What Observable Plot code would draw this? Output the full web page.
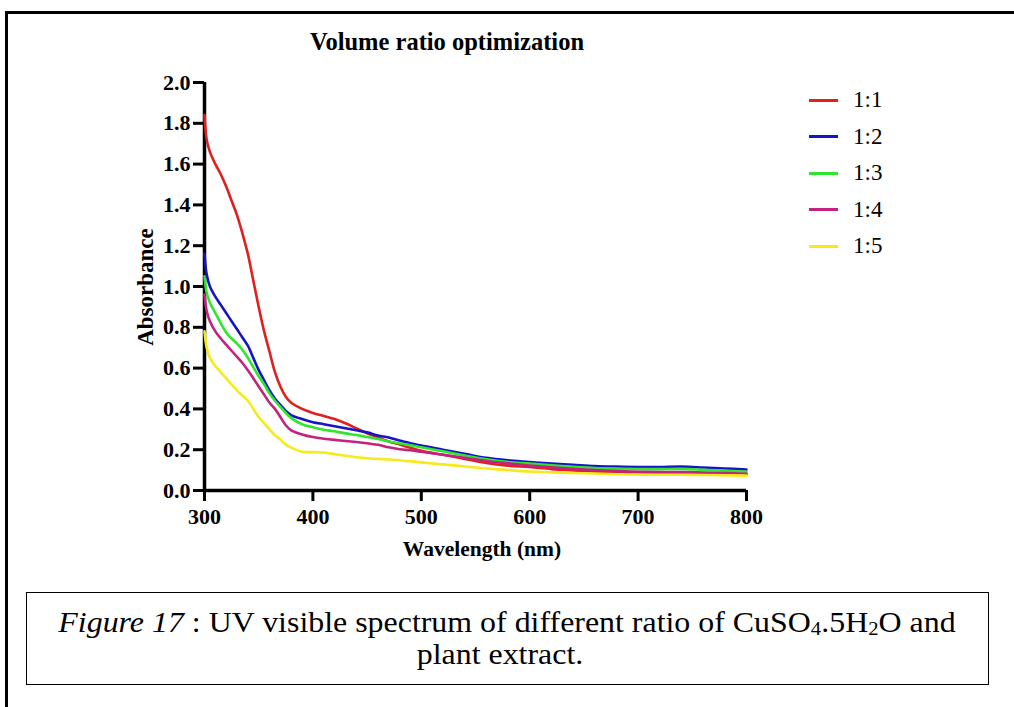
<!DOCTYPE html>
<html>
<head>
<meta charset="utf-8">
<script src="https://cdn.jsdelivr.net/npm/d3@7"></script>
<script src="https://cdn.jsdelivr.net/npm/@observablehq/plot@0.6"></script>
<style>
  html, body { margin: 0; padding: 0; background: #fff; }
  #wrap { position: relative; width: 1014px; height: 707px; overflow: hidden; font-family: "Liberation Serif", "Times New Roman", serif; color: #000; }
  #wrap svg { position: absolute; left: 0; top: 0; }
  .abs { position: absolute; white-space: nowrap; }
  .c { transform: translate(-50%, -50%); }
</style>
</head>
<body>
<div id="wrap"></div>
<script>
// ---- data ----
const title = "Volume ratio optimization";
const xLabel = "Wavelength (nm)";
const yLabel = "Absorbance";
const seriesNames = ["1:1", "1:2", "1:3", "1:4", "1:5"];
const seriesColors = ["#e01f1f", "#1515c4", "#2fe52f", "#c2237c", "#f6ea18"];
const xTicks = [300, 400, 500, 600, 700, 800];
const yTicks = [0, 0.2, 0.4, 0.6, 0.8, 1.0, 1.2, 1.4, 1.6, 1.8, 2.0];

const wavelengths = [300,302,305,310,315,320,325,330,335,340,345,350,355,360,365,370,375,380,390,400,410,420,430,440,450,460,470,480,490,500,520,540,560,580,600,620,640,660,680,700,720,740,760,780,800];

const abs11 = [1.84,1.72,1.66,1.60,1.55,1.49,1.42,1.35,1.26,1.16,1.03,0.90,0.78,0.68,0.58,0.51,0.46,0.43,0.40,0.38,0.365,0.35,0.33,0.305,0.28,0.26,0.24,0.225,0.21,0.195,0.175,0.155,0.135,0.122,0.115,0.105,0.098,0.092,0.088,0.085,0.085,0.085,0.083,0.080,0.078];
const abs12 = [1.16,1.06,1.00,0.95,0.91,0.87,0.83,0.79,0.75,0.71,0.65,0.59,0.54,0.49,0.45,0.42,0.39,0.37,0.35,0.335,0.325,0.315,0.305,0.295,0.285,0.27,0.26,0.245,0.232,0.22,0.20,0.18,0.16,0.148,0.14,0.132,0.126,0.12,0.117,0.115,0.115,0.117,0.113,0.108,0.103];
const abs13 = [1.05,0.97,0.92,0.87,0.82,0.775,0.745,0.72,0.69,0.65,0.605,0.56,0.52,0.475,0.44,0.41,0.38,0.355,0.325,0.31,0.298,0.29,0.28,0.272,0.262,0.252,0.24,0.23,0.222,0.212,0.192,0.172,0.153,0.14,0.132,0.123,0.116,0.11,0.107,0.105,0.105,0.106,0.102,0.097,0.092];
const abs14 = [0.96,0.88,0.83,0.78,0.745,0.715,0.685,0.655,0.625,0.59,0.55,0.51,0.47,0.43,0.40,0.36,0.32,0.295,0.275,0.262,0.254,0.248,0.243,0.238,0.232,0.224,0.212,0.202,0.197,0.19,0.175,0.16,0.145,0.133,0.122,0.114,0.106,0.10,0.095,0.092,0.09,0.09,0.088,0.085,0.082];
const abs15 = [0.78,0.70,0.65,0.61,0.58,0.55,0.52,0.49,0.465,0.44,0.40,0.36,0.33,0.30,0.27,0.25,0.225,0.21,0.19,0.188,0.186,0.178,0.17,0.163,0.158,0.155,0.152,0.148,0.143,0.138,0.128,0.118,0.108,0.10,0.093,0.089,0.086,0.083,0.08,0.078,0.077,0.077,0.076,0.075,0.073];

const seriesValues = [abs11, abs12, abs13, abs14, abs15];

// ---- build ----
const data = seriesNames.flatMap((s, i) =>
  wavelengths.map((w, j) => ({ w, a: seriesValues[i][j], s }))
);

const W = 1014, H = 707;
const serif = "'Liberation Serif', 'Times New Roman', serif";

const chart = Plot.plot({
  width: W,
  height: H,
  marginLeft: 204,
  marginRight: 268,
  marginTop: 82,
  marginBottom: 217,
  style: { fontFamily: serif, background: "transparent", overflow: "visible" },
  x: { domain: [300, 800] },
  y: { domain: [0, 2] },
  color: { domain: seriesNames, range: seriesColors },
  marks: [
    Plot.axisX({ ticks: xTicks, tickSize: 11, tickPadding: 7, strokeWidth: 3, fontSize: 22, fontWeight: "bold", label: null, tickFormat: d => String(d), fill: "#000" }),
    Plot.axisY({ ticks: yTicks, tickSize: 11, tickPadding: 3, strokeWidth: 3, fontSize: 22, fontWeight: "bold", label: null, tickFormat: d3.format(".1f"), fill: "#000" }),
    Plot.ruleX([300], { y1: 0, y2: 2, strokeWidth: 3.5, stroke: "#000" }),
    Plot.ruleY([0], { x1: 300, x2: 800, strokeWidth: 3.5, stroke: "#000" }),
    Plot.line(data, { x: "w", y: "a", z: "s", stroke: "s", strokeWidth: 2.6, curve: "catmull-rom" })
  ]
});

const wrap = document.getElementById("wrap");
wrap.appendChild(chart);

function addText(html, x, y, style) {
  const d = document.createElement("div");
  d.className = "abs c";
  d.style.left = x + "px";
  d.style.top = y + "px";
  Object.assign(d.style, style || {});
  d.innerHTML = html;
  wrap.appendChild(d);
  return d;
}

// outer frame (open on right/bottom, cut by the page)
const frame = document.createElement("div");
frame.className = "abs";
Object.assign(frame.style, { left: "5px", top: "11px", width: "1100px", height: "800px", borderLeft: "3px solid #000", borderTop: "3px solid #000", boxSizing: "border-box" });
wrap.appendChild(frame);

// title and axis titles
addText(title, 447, 42, { fontSize: "24.5px", fontWeight: "bold" });
addText(xLabel, 482, 549, { fontSize: "21.5px", fontWeight: "bold" });
addText(yLabel, 146, 287, { fontSize: "23px", fontWeight: "bold", transform: "translate(-50%, -50%) rotate(-90deg)" });

// legend
seriesNames.forEach((name, i) => {
  const y = 100 + i * 36.6;
  const ln = document.createElement("div");
  ln.className = "abs";
  Object.assign(ln.style, { left: "809px", top: (y - 1.5) + "px", width: "29px", height: "3px", background: seriesColors[i] });
  wrap.appendChild(ln);
  const t = document.createElement("div");
  t.className = "abs";
  Object.assign(t.style, { left: "853px", top: y + "px", transform: "translateY(-50%)", fontSize: "23px" });
  t.textContent = name;
  wrap.appendChild(t);
});

// caption box
const box = document.createElement("div");
box.className = "abs";
Object.assign(box.style, { left: "26px", top: "592px", width: "963px", height: "93px", border: "1.5px solid #000", boxSizing: "border-box" });
wrap.appendChild(box);
const capStyle = { fontSize: "29px", transform: "translate(-50%, -50%) scaleX(1.1)" };
addText("<i>Figure 17</i> : UV visible spectrum of different ratio of CuSO<span style='font-size:0.65em;vertical-align:-0.15em'>4</span>.5H<span style='font-size:0.65em;vertical-align:-0.15em'>2</span>O and", 507, 623, capStyle);
addText("plant extract.", 500, 654, capStyle);
</script>
</body>
</html>
